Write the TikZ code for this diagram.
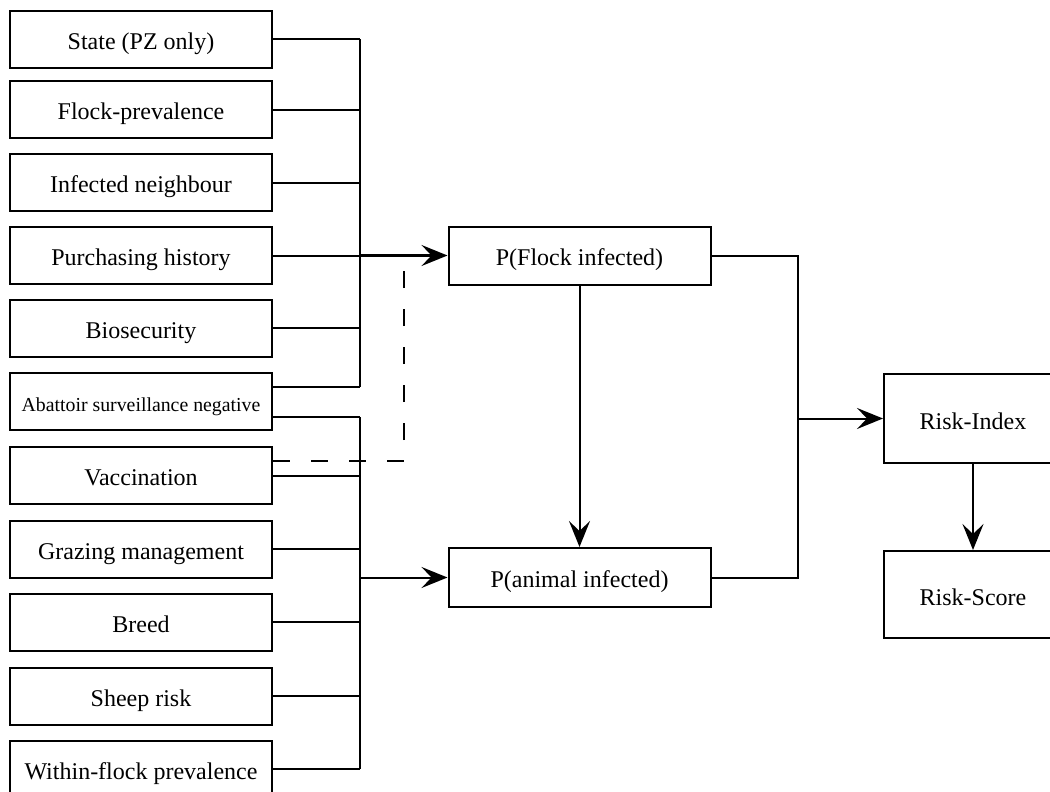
\documentclass[tikz,border=0pt]{standalone}
\usepackage{fontspec}
\setmainfont{Liberation Serif}
\usetikzlibrary{arrows.meta}
\begin{document}
\begin{tikzpicture}[x=1pt,y=-1pt,
  box/.style={draw,line width=2pt,minimum width=262pt,minimum height=57pt,inner sep=0pt,text height=20pt,text depth=0pt,font=\fontsize{24}{28}\selectfont},
  conn/.style={line width=2pt},
  arr/.style={line width=2pt,-{Stealth[length=26pt,width=21pt,inset=10pt]}},
  dashline/.style={line width=2pt,dash pattern=on 17pt off 21pt}]
\clip (0,0) rectangle (1050,792);
\fill[white] (0,0) rectangle (1050,792);
\node[box] (n1) at (141,39.5) {State (PZ only)};
\node[box] (n2) at (141,109.5) {Flock-prevalence};
\node[box] (n3) at (141,182.5) {Infected neighbour};
\node[box] (n4) at (141,255.5) {Purchasing history};
\node[box] (n5) at (141,328) {Biosecurity};
\node[box,font=\fontsize{19.8}{23}\selectfont] (n6) at (141,401.5) {Abattoir surveillance negative};
\node[box] (n7) at (141,475.5) {Vaccination};
\node[box] (n8) at (141,549) {Grazing management};
\node[box] (n9) at (141,622) {Breed};
\node[box] (n10) at (141,696) {Sheep risk};
\node[box] (n11) at (141,769) {Within-flock prevalence};
\node[box,minimum height=58pt] (pf) at (579.5,255.5) {P(Flock infected)};
\node[box,minimum height=59pt] (pa) at (579.5,577.5) {P(animal infected)};
\node[box,minimum width=178pt,minimum height=89pt,text height=21pt] (ri) at (973,418.5) {Risk-Index};
\node[box,minimum width=178pt,minimum height=87pt,text height=21pt] (rs) at (973,594.5) {Risk-Score};
\coordinate (bus) at (360,0);
\coordinate (rbus) at (798,0);
\coordinate (ab1) at (360,387);
\coordinate (ab2) at (360,417);
\coordinate (vd) at (404,461);
\coordinate (vt) at (404,258);
% upper bus
\foreach \n in {n1,n2,n3,n4,n5} \draw[conn] (\n.east) -- (\n.east -| bus);
\draw[conn] (n6.east |- ab1) -- (ab1);
\draw[conn] (n1.east -| bus) -- (ab1);
% lower bus
\draw[conn] (n6.east |- ab2) -- (ab2);
\foreach \n in {n7,n8,n9,n10,n11} \draw[conn] (\n.east) -- (\n.east -| bus);
\draw[conn] (ab2) -- (n11.east -| bus);
% arrows to P nodes
\draw[arr,line width=3pt] (pf.west -| bus) -- (pf.west);
\draw[arr] (pa.west -| bus) -- (pa.west);
% dashed
\draw[dashline] (n7.east |- vd) -- (vd) -- (vt);
% right bus
\draw[conn] (pf.east) -| (pa.east -| rbus) -- (pa.east);
\draw[arr] (ri.west -| rbus) -- (ri.west);
\draw[arr] (pf.south) -- (pa.north);
\draw[arr] (ri.south) -- (rs.north);
\end{tikzpicture}
\end{document}
